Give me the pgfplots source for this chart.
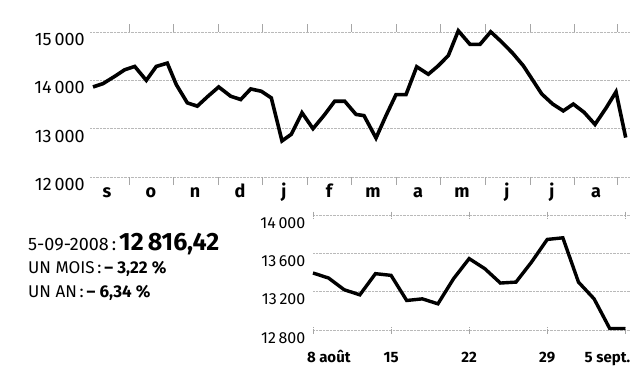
\documentclass[border=0pt]{standalone}
\usepackage{pgfplots}
\pgfplotsset{compat=1.18}
\usepackage{fontspec}
\setmainfont{Fira Sans}

\begin{document}
\begin{tikzpicture}[x=1pt,y=1pt]
  \path[use as bounding box] (0,0) rectangle (634,365);

  % year chart (weekly closes)
  \begin{axis}[
      at={(90pt,188pt)}, anchor=south west,
      scale only axis, width=540pt, height=145pt,
      xmin=90, xmax=630, ymin=12000, ymax=15000,
      axis line style={draw=none},
      clip=false,
      scaled y ticks=false,
      ytick={12000,13000,14000,15000},
      yticklabels={12\,000,13\,000,14\,000,15\,000},
      ytick style={draw=none},
      yticklabel style={anchor=north east, inner sep=0pt, xshift=-5pt, yshift=-1pt, font=\fontsize{18}{18}\selectfont},
      ymajorgrids,
      grid style={gray!55, densely dotted, line width=0.7pt},
      xtick={107,151,195,240,284,329,373,418,462,507,552,596},
      xticklabels={s,o,n,d,j,f,m,a,m,j,j,a},
      major tick length=0pt,
      minor xtick={129,173,218,262,307,351,396,440,485,530,574,617},
      minor tick length=8pt,
      tick align=outside,
      minor tick style={gray!70, line width=0.6pt},
      xticklabel style={anchor=base, yshift=-20pt, font=\fontsize{18}{18}\selectfont\bfseries},
    ]
    \addplot[black, line width=3.6pt, line join=miter] coordinates {
      (93,13863)(103,13932)(114.7,14082)(124.7,14219)(134.7,14288)(146.3,14000)
      (156.3,14288)(167.3,14356)(176.3,13911)(187.3,13534)(197.3,13466)(208,13671)
      (218.7,13863)(230.7,13671)(240.7,13603)(250.7,13822)(261.3,13774)(271.3,13637)
      (282,12747)(291.3,12884)(302,13329)(313,13000)(324,13274)(334.7,13568)
      (344.7,13568)(356,13295)(364,13270)(376,12807)(386,13270)(396,13705)
      (406,13705)(416.7,14281)(428.3,14126)(438.3,14302)(448.3,14512)(458.3,15025)
      (470,14744)(480,14744)(490.7,15004)(501.7,14793)(512.7,14561)(523.3,14302)
      (533.3,13986)(541.7,13719)(552.7,13509)(563.3,13368)(573.3,13509)(584,13340)
      (595,13088)(606,13425)(616,13761)(625.7,12816)
    };
  \end{axis}

  % month chart (daily closes)
  \begin{axis}[
      at={(313pt,35pt)}, anchor=south west,
      scale only axis, width=317pt, height=115pt,
      xmin=0, xmax=20.3, ymin=12800, ymax=14000,
      axis line style={draw=none},
      clip=false,
      scaled y ticks=false,
      ytick={12800,13200,13600,14000},
      yticklabels={12\,800,13\,200,13\,600,14\,000},
      ytick style={draw=none},
      yticklabel style={anchor=north east, inner sep=0pt, xshift=-4pt, yshift=-2pt, font=\fontsize{16}{16}\selectfont},
      ymajorgrids,
      grid style={gray!55, densely dotted, line width=0.7pt},
      xtick={0,5,10,15,20},
      xticklabels={\makebox[0pt][l]{\hspace{-6pt}8 août},15,22,29,\makebox[0pt][r]{5 sept.\hspace{-5pt}}},
      tick align=center,
      major tick length=7pt,
      xtick style={gray!70, densely dotted, line width=0.7pt},
      xticklabel style={anchor=base, yshift=-29pt, font=\fontsize{15}{15}\selectfont\bfseries},
    ]
    \addplot[black, line width=3.4pt, line join=miter] coordinates {
      (0,13395)(1,13342)(2,13220)(3,13167)(4,13388)(5,13370)(6,13108)
      (7,13125)(8,13073)(9,13335)(10,13545)(11,13440)(12,13290)(13,13300)
      (14,13510)(15,13745)(16,13762)(17,13300)(18,13125)(19,12816)(20,12816)
    };
  \end{axis}

  \node[anchor=base west, inner sep=0pt] at (28,115)
    {\fontsize{18}{18}\selectfont 5-09-2008\,:\,\fontsize{25}{25}\selectfont\bfseries 12\,816,42};
  \node[anchor=base west, inner sep=0pt] at (28,92)
    {\fontsize{17}{17}\selectfont UN MOIS\,:\,\textbf{– 3,22 \%}};
  \node[anchor=base west, inner sep=0pt] at (28,68)
    {\fontsize{17}{17}\selectfont UN AN\,:\,\textbf{– 6,34 \%}};
\end{tikzpicture}
\end{document}
